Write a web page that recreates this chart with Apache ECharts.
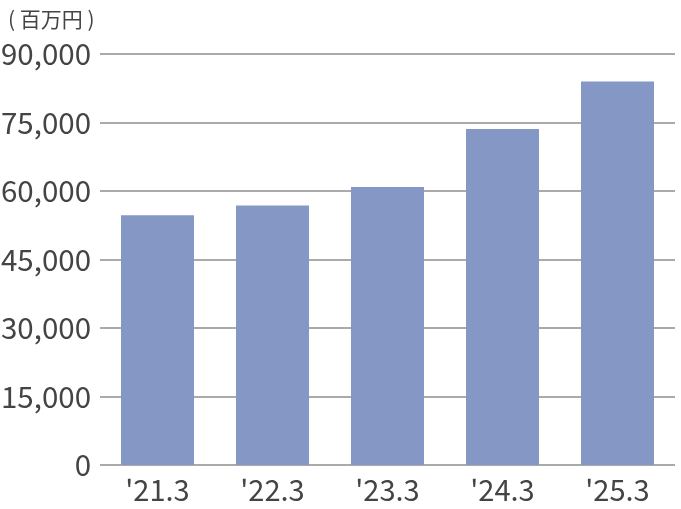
<!DOCTYPE html>
<html><head><meta charset="utf-8">
<script src="https://cdn.jsdelivr.net/npm/echarts@6/dist/echarts.min.js"></script>
<style>html,body{margin:0;padding:0;background:#fff}#c{width:681px;height:509px}</style>
</head><body><div id="c"></div>
<script>
const categories = ["'21.3", "'22.3", "'23.3", "'24.3", "'25.3"];
const values = [54700, 56800, 60900, 73600, 84000];
const yTicks = [0, 15000, 30000, 45000, 60000, 75000, 90000];
const unitLabel = "( 百万円 )";

const chart = echarts.init(document.getElementById('c'), null, {renderer: 'canvas'});
const font = "'Noto Sans CJK JP', sans-serif";
chart.setOption({
  animation: false,
  title: {text: unitLabel, left: 3, top: 4, textStyle: {fontFamily: font, fontSize: 21, fontWeight: 'normal', color: '#444'}},
  grid: {left: 100, right: 6, top: 54, bottom: 44, containLabel: false, outerBoundsMode: 'none'},
  xAxis: {
    type: 'category', data: categories,
    axisLine: {show: false}, axisTick: {show: false},
    axisLabel: {fontFamily: font, fontSize: 29, color: '#444', margin: 10}
  },
  yAxis: {
    type: 'value', min: yTicks[0], max: yTicks[yTicks.length-1], interval: 15000,
    axisLine: {show: false}, axisTick: {show: false},
    axisLabel: {fontFamily: font, fontSize: 29.5, color: '#444', margin: 9,
      formatter: v => v.toLocaleString('en-US')},
    splitLine: {lineStyle: {color: '#aaaaaa', width: 2}}
  },
  series: [{
    type: 'bar', data: values, barWidth: 73,
    itemStyle: {color: '#8497c5'}
  }]
});
</script></body></html>
